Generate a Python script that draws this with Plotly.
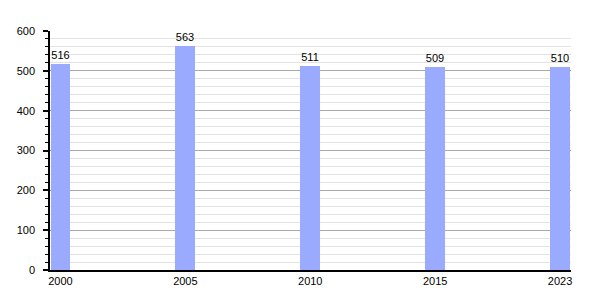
import plotly.graph_objects as go

years = ["2000", "2005", "2010", "2015", "2023"]
values = [516, 563, 511, 509, 510]
positions = list(range(len(years)))

fig = go.Figure()
fig.add_trace(go.Bar(
    x=positions, y=values, width=0.16,
    marker=dict(color="#99aaff", line=dict(width=0)),
    text=[str(v) for v in values], textposition="outside",
    textfont=dict(family="Liberation Sans, Arial", size=11, color="#000"),
    cliponaxis=False,
))
fig.update_layout(
    width=600, height=300,
    margin=dict(l=50, r=29, t=31, b=30),
    paper_bgcolor="white", plot_bgcolor="white",
    showlegend=False,
    font=dict(family="Liberation Sans, Arial", size=11, color="#000"),
    bargap=0,
)
fig.update_xaxes(
    range=[-0.084, 4.088], tickvals=positions, ticktext=years,
    showgrid=False, zeroline=False, showline=True, linecolor="#000", linewidth=1.5,
    ticks="", tickfont=dict(size=11),
)
fig.update_yaxes(
    range=[0, 600], tickvals=[0, 100, 200, 300, 400, 500, 600],
    showgrid=True, gridcolor="#aaaaaa", gridwidth=1,
    zeroline=False, showline=True, linecolor="#000", linewidth=1.5,
    ticks="outside", ticklen=5, tickcolor="#000", tickwidth=1.5,
    ticklabelstandoff=6,
    minor=dict(dtick=20, showgrid=True, gridcolor="#e3e3e3", gridwidth=1,
               ticks="outside", ticklen=3, tickcolor="#000", tickwidth=1),
)
fig.write_html("out.html")
